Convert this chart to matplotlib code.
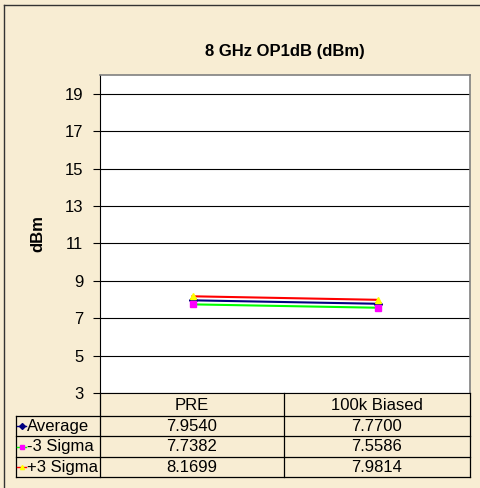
import matplotlib.pyplot as plt
from matplotlib.lines import Line2D

plt.rcParams['font.family'] = ['Liberation Sans', 'DejaVu Sans']

categories = ["PRE", "100k Biased"]
series_names = ["Average", "-3 Sigma", "+3 Sigma"]
average = [7.9540, 7.7700]
minus_3sigma = [7.7382, 7.5586]
plus_3sigma = [8.1699, 7.9814]
series_values = [average, minus_3sigma, plus_3sigma]

line_colors = ["#000080", "#00FF00", "#FF0000"]
marker_colors = ["#000080", "#FF00FF", "#FFFF00"]
markers = ["D", "s", "^"]

bg = "#F8EDD3"
W, H = 480, 488
fs = 12

fig = plt.figure(figsize=(W / 100, H / 100), dpi=100)
fig.patch.set_facecolor(bg)

# outer chart border (left and top visible)
fig.add_artist(Line2D([4 / W, 4 / W], [0, 1 - 5 / H], color="#333333", lw=1))
fig.add_artist(Line2D([4 / W, 1], [1 - 5 / H, 1 - 5 / H], color="#333333", lw=1))

# ------------------------------
# plot area
# ------------------------------
left, right, top, bottom = 100, 470, 75, 393
ax = fig.add_axes([left / W, 1 - bottom / H, (right - left) / W, (bottom - top) / H])
ax.set_facecolor("white")
x = list(range(len(categories)))
for vals, lc, mc, mk in zip(series_values, line_colors, marker_colors, markers):
    ax.plot(x, vals, color=lc, lw=1.5, marker=mk, markersize=4,
            markerfacecolor=mc, markeredgecolor=mc, zorder=3)
ax.set_xlim(-0.5, len(categories) - 0.5)
ax.set_ylim(3, 20)
ax.set_yticks(range(3, 20, 2))
ax.set_xticks([])
ax.yaxis.grid(True, color="black", lw=0.8)
ax.set_axisbelow(True)
ax.tick_params(axis="y", direction="out", length=5, width=0.8, labelsize=fs, pad=7)
for s in ["top", "right"]:
    ax.spines[s].set_color("#808080")
    ax.spines[s].set_linewidth(1.2)
ax.spines["left"].set_color("black")
ax.spines["bottom"].set_color("black")
ax.set_ylabel("dBm", fontsize=fs, fontweight="bold", labelpad=14)
ax.set_title("8 GHz OP1dB (dBm)", fontsize=fs, fontweight="bold", pad=14)

# ------------------------------
# data table
# ------------------------------
tax = fig.add_axes([16 / W, 1 - 477 / H, (470 - 16) / W, (477 - 393) / H])
tax.set_xlim(16, 470)
tax.set_ylim(477, 393)
tax.axis("off")
cols = [16, 100, 284, 470]
rows = [393, 416, 436, 457, 477]
lk = dict(color="black", lw=0.9, clip_on=False)
for yy in rows[1:]:
    tax.plot([cols[0], cols[-1]], [yy, yy], **lk)
for xx in cols[1:]:
    tax.plot([xx, xx], [rows[0], rows[-1]], **lk)
tax.plot([cols[0], cols[0]], [rows[1], rows[-1]], **lk)

for j, cat in enumerate(categories):
    tax.text((cols[j + 1] + cols[j + 2]) / 2, (rows[0] + rows[1]) / 2 + 1, cat,
             ha="center", va="center", fontsize=fs)
for i, (name, vals) in enumerate(zip(series_names, series_values)):
    yc = (rows[i + 1] + rows[i + 2]) / 2
    tax.plot([17, 26], [yc, yc], color=line_colors[i], lw=1, clip_on=False)
    tax.plot([21.5], [yc], marker=markers[i], markersize=3, color=marker_colors[i],
             clip_on=False)
    tax.text(27, yc, name, ha="left", va="center", fontsize=fs)
    for j, v in enumerate(vals):
        tax.text((cols[j + 1] + cols[j + 2]) / 2, yc, f"{v:.4f}",
                 ha="center", va="center", fontsize=fs)

fig.savefig("out.png", dpi=100, facecolor=bg)
